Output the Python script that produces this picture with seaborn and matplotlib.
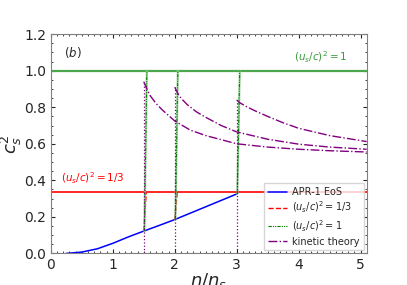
import numpy as np
import matplotlib
matplotlib.use("Agg")
import matplotlib.pyplot as plt
import seaborn as sns
from matplotlib.ticker import AutoMinorLocator

# APR-1 EoS sound speed squared
apr_n = [0.25, 0.5, 0.75, 1.0, 1.25, 1.5, 1.75, 2.0, 2.25, 2.5, 2.75, 3.0]
apr_cs2 = [0.0, 0.007, 0.025, 0.055, 0.09, 0.122, 0.153, 0.185, 0.22, 0.255, 0.29, 0.325]

# transition densities and APR values there
trans_n = [1.5, 2.0, 3.0]
trans_apr = [0.122, 0.185, 0.325]

# kinetic theory branches
kin_n1 = [1.5, 1.55, 1.6, 1.7, 1.8, 2.0, 2.25, 2.5, 3.0, 3.5, 4.0, 4.5, 5.1]
kin_c1 = [0.94, 0.90, 0.865, 0.82, 0.785, 0.725, 0.675, 0.645, 0.60, 0.582, 0.570, 0.562, 0.555]
kin_n2 = [2.0, 2.05, 2.1, 2.2, 2.35, 2.5, 2.75, 3.0, 3.5, 4.0, 4.5, 5.1]
kin_c2 = [0.91, 0.875, 0.85, 0.815, 0.775, 0.745, 0.70, 0.665, 0.625, 0.598, 0.582, 0.57]
kin_n3 = [3.0, 3.05, 3.15, 3.3, 3.5, 3.75, 4.0, 4.5, 5.1]
kin_c3 = [0.84, 0.825, 0.805, 0.78, 0.75, 0.715, 0.685, 0.645, 0.612]

sns.set_style("ticks")
plt.rcParams['font.family'] = ['DejaVu Sans']

fig, ax = plt.subplots(figsize=(4.07, 2.85), dpi=100)
fig.subplots_adjust(left=0.125, right=0.901, top=0.88, bottom=0.111)

# horizontal limits
ax.axhline(1 / 3, color='red', lw=1.2)
ax.axhline(1.0, color='#4ca64c', lw=1.6)

sns.lineplot(x=apr_n, y=apr_cs2, ax=ax, color='blue', lw=1.1, label='APR-1 EoS')

# jumps to (u_s/c)^2 = 1/3
for i, (n0, c0) in enumerate(zip(trans_n[:2], trans_apr[:2])):
    ax.plot([n0, n0 + 0.04], [c0, 1 / 3], color='red', ls='--', lw=1.0,
            label='$(u_s/c)^2 = 1/3$' if i == 0 else None)

# jumps to (u_s/c)^2 = 1
for i, (n0, c0) in enumerate(zip(trans_n, trans_apr)):
    ax.plot([n0 + 0.01, n0 + 0.05], [c0, 1.0], color='#8fd08f', lw=1.6, alpha=0.8)
    ax.plot([n0 + 0.01, n0 + 0.05], [c0, 1.0], color='green', lw=0.8,
            ls=(0, (3, 1, 1, 1, 1, 1)),
            label='$(u_s/c)^2 = 1$' if i == 0 else None)

# kinetic theory
kin_start = [kin_c1[0], kin_c2[0], kin_c3[0]]
for n0, c0 in zip(trans_n, kin_start):
    ax.plot([n0, n0], [0, c0], color='purple', ls=':', lw=0.9)
for i, (kn, kc) in enumerate([(kin_n1, kin_c1), (kin_n2, kin_c2), (kin_n3, kin_c3)]):
    ax.plot(kn, kc, color='purple', ls='-.', lw=1.0,
            label='kinetic theory' if i == 0 else None)

ax.text(0.22, 1.1, '$(b)$', fontsize=8.5, va='center')
ax.text(4.35, 1.075, '$(u_s/c)^2 = 1$', color='#3a9a3a', fontsize=7.5,
        ha='center', va='center')
ax.text(0.67, 0.41, '$(u_s/c)^2 = 1/3$', color='red', fontsize=7.5,
        ha='center', va='center')

ax.set_xlim(0, 5.1)
ax.set_ylim(0, 1.2)
ax.set_xticks([0, 1, 2, 3, 4, 5])
ax.set_yticks([0.0, 0.2, 0.4, 0.6, 0.8, 1.0, 1.2])
ax.set_yticklabels(['0.0', '0.2', '0.4', '0.6', '0.8', '1.0', '1.2'])
ax.xaxis.set_minor_locator(AutoMinorLocator(10))
ax.yaxis.set_minor_locator(AutoMinorLocator(4))
ax.tick_params(which='both', direction='in', top=True, right=True, labelsize=10)
ax.tick_params(which='major', length=3)
ax.tick_params(which='minor', length=1.5)
for sp in ax.spines.values():
    sp.set_color('gray')

ax.set_xlabel('$n/n_s$', fontsize=13, labelpad=-1)
ax.set_ylabel('$c_s^2$', fontsize=13, labelpad=0)

ax.legend(loc='lower right', fontsize=7, frameon=True, fancybox=False,
          borderaxespad=0.3, handlelength=1.9, handletextpad=0.6,
          labelspacing=0.3, borderpad=0.4)

fig.savefig('out.png', dpi=100)
